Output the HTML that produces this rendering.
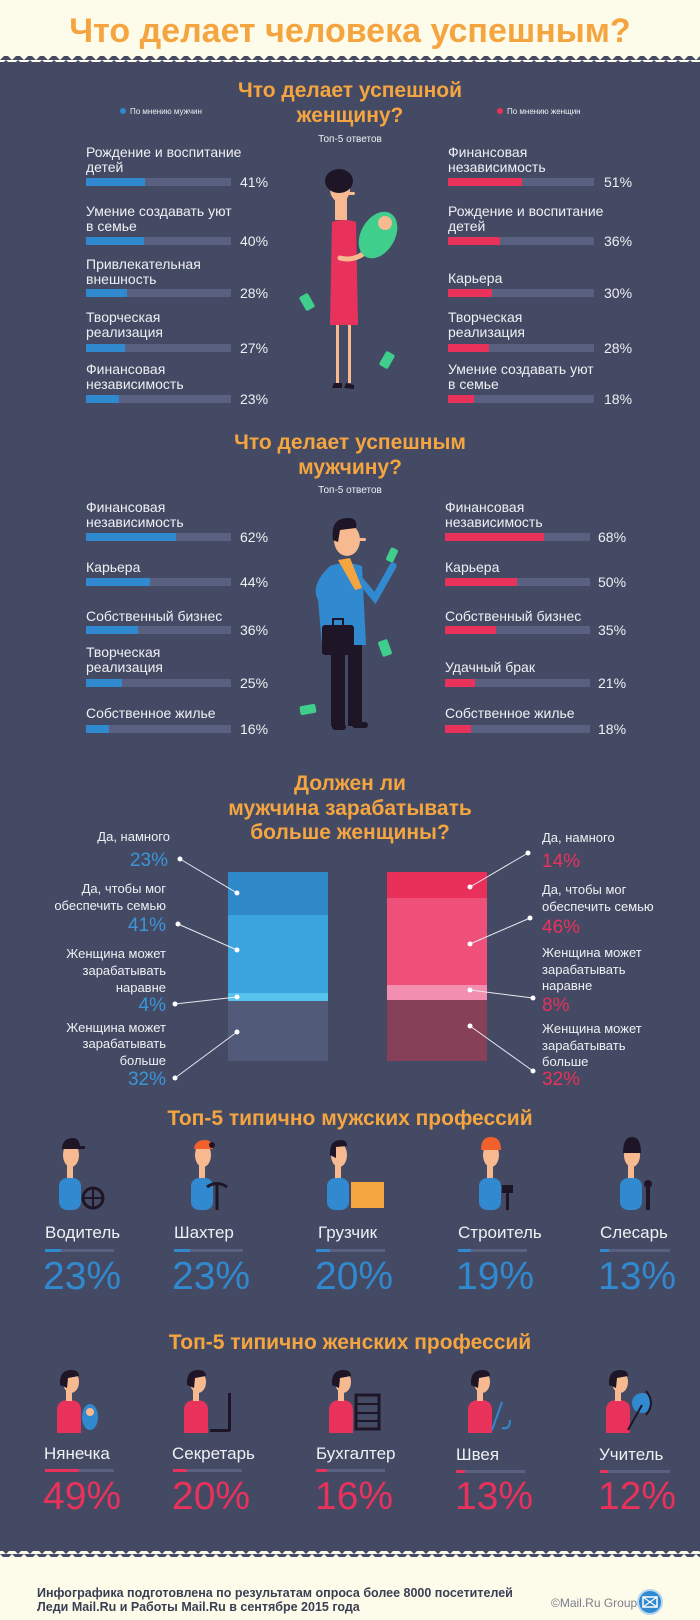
<!DOCTYPE html>
<html><head><meta charset="utf-8"><style>
html,body{margin:0;padding:0;background:#fdfbea;}
svg{display:block}
text{font-family:"Liberation Sans","Noto Sans CJK SC",sans-serif;}
.t{fill:#eef0f4;font-size:14px}
.h{fill:#f5a540;font-weight:bold;font-size:21px;text-anchor:middle}
.p{fill:#eef0f4;font-size:14px}
</style></head><body>
<svg width="700" height="1620" viewBox="0 0 700 1620" xmlns="http://www.w3.org/2000/svg">
<defs>
<pattern id="zt" width="12" height="6" patternUnits="userSpaceOnUse"><polygon points="0,6 6,0 12,6" fill="#444a63"/></pattern>
<pattern id="zb" width="12" height="6" patternUnits="userSpaceOnUse"><polygon points="0,0 12,0 6,6" fill="#444a63"/></pattern>
</defs>
<rect width="700" height="1620" fill="#fdfbea"/>
<rect x="0" y="56" width="700" height="6" fill="url(#zt)"/>
<rect x="0" y="62" width="700" height="1489" fill="#444a63"/>
<rect x="0" y="1551" width="700" height="6" fill="url(#zb)"/>
<text x="350" y="42" text-anchor="middle" font-size="34" font-weight="bold" fill="#f5a540">Что делает человека успешным?</text>

<!-- Section 1 -->
<text class="h" x="350" y="97">Что делает успешной</text>
<text class="h" x="350" y="122">женщину?</text>
<text x="350" y="142" text-anchor="middle" font-size="10" fill="#eef0f4">Топ-5 ответов</text>
<circle cx="123" cy="111" r="3" fill="#3189cf"/><text x="130" y="114" font-size="8" fill="#eef0f4">По мнению мужчин</text>
<circle cx="500" cy="111" r="3" fill="#e8325c"/><text x="507" y="114" font-size="8" fill="#eef0f4">По мнению женщин</text>

<g class="t">
<text x="86" y="157">Рождение и воспитание</text><text x="86" y="172">детей</text>
<text x="86" y="216">Умение создавать уют</text><text x="86" y="231">в семье</text>
<text x="86" y="269">Привлекательная</text><text x="86" y="284">внешность</text>
<text x="86" y="322">Творческая</text><text x="86" y="337">реализация</text>
<text x="86" y="374">Финансовая</text><text x="86" y="389">независимость</text>
<text x="448" y="157">Финансовая</text><text x="448" y="172">независимость</text>
<text x="448" y="216">Рождение и воспитание</text><text x="448" y="231">детей</text>
<text x="448" y="283">Карьера</text>
<text x="448" y="322">Творческая</text><text x="448" y="337">реализация</text>
<text x="448" y="374">Умение создавать уют</text><text x="448" y="389">в семье</text>
</g>
<g fill="#5a6180">
<rect x="86" y="178" width="145" height="8"/><rect x="86" y="237" width="145" height="8"/><rect x="86" y="289" width="145" height="8"/><rect x="86" y="344" width="145" height="8"/><rect x="86" y="395" width="145" height="8"/>
<rect x="448" y="178" width="146" height="8"/><rect x="448" y="237" width="146" height="8"/><rect x="448" y="289" width="146" height="8"/><rect x="448" y="344" width="146" height="8"/><rect x="448" y="395" width="146" height="8"/>
</g>
<g fill="#3189cf">
<rect x="86" y="178" width="59" height="8"/><rect x="86" y="237" width="58" height="8"/><rect x="86" y="289" width="41" height="8"/><rect x="86" y="344" width="39" height="8"/><rect x="86" y="395" width="33" height="8"/>
</g>
<g fill="#e8325c">
<rect x="448" y="178" width="74" height="8"/><rect x="448" y="237" width="52" height="8"/><rect x="448" y="289" width="44" height="8"/><rect x="448" y="344" width="41" height="8"/><rect x="448" y="395" width="26" height="8"/>
</g>
<g class="p">
<text x="240" y="187">41%</text><text x="240" y="246">40%</text><text x="240" y="298">28%</text><text x="240" y="353">27%</text><text x="240" y="404">23%</text>
<text x="604" y="187">51%</text><text x="604" y="246">36%</text><text x="604" y="298">30%</text><text x="604" y="353">28%</text><text x="604" y="404">18%</text>
</g>
<!-- woman -->
<g>
<rect x="302" y="294" width="10" height="16" rx="2" fill="#3fce8c" transform="rotate(-30 307 302)"/>
<rect x="382" y="352" width="10" height="16" rx="2" fill="#3fce8c" transform="rotate(30 387 360)"/>
<rect x="336" y="320" width="3" height="63" fill="#f7b98f"/><rect x="348" y="320" width="3" height="63" fill="#f7b98f"/>
<path d="M334 383 l8 0 l0 5 l-10 0z M346 383 l8 2 l0 4 l-10 -1z" fill="#1e1626"/>
<rect x="335" y="196" width="12" height="24" fill="#f7b98f"/>
<ellipse cx="340" cy="189" rx="10" ry="13" fill="#f7b98f"/>
<rect x="346" y="192" width="9" height="3" rx="1.5" fill="#f7b98f"/>
<ellipse cx="339" cy="181" rx="14" ry="12" fill="#1e1626"/>
<path d="M332 222 Q344 218 356 222 L358 325 L330 325 Z" fill="#e8325c"/>
<path d="M340 258 Q355 262 368 250" stroke="#f7b98f" stroke-width="5" fill="none" stroke-linecap="round"/>
<ellipse cx="378" cy="235" rx="17" ry="25" transform="rotate(30 378 235)" fill="#3fce8c"/>
<circle cx="385" cy="223" r="7" fill="#f7b98f"/>
</g>

<!-- Section 2 -->
<text class="h" x="350" y="449">Что делает успешным</text>
<text class="h" x="350" y="474">мужчину?</text>
<text x="350" y="493" text-anchor="middle" font-size="10" fill="#eef0f4">Топ-5 ответов</text>
<g class="t">
<text x="86" y="512">Финансовая</text><text x="86" y="527">независимость</text>
<text x="86" y="572">Карьера</text>
<text x="86" y="621">Собственный бизнес</text>
<text x="86" y="657">Творческая</text><text x="86" y="672">реализация</text>
<text x="86" y="718">Собственное жилье</text>
<text x="445" y="512">Финансовая</text><text x="445" y="527">независимость</text>
<text x="445" y="572">Карьера</text>
<text x="445" y="621">Собственный бизнес</text>
<text x="445" y="672">Удачный брак</text>
<text x="445" y="718">Собственное жилье</text>
</g>
<g fill="#5a6180">
<rect x="86" y="533" width="145" height="8"/><rect x="86" y="578" width="145" height="8"/><rect x="86" y="626" width="145" height="8"/><rect x="86" y="679" width="145" height="8"/><rect x="86" y="725" width="145" height="8"/>
<rect x="445" y="533" width="145" height="8"/><rect x="445" y="578" width="145" height="8"/><rect x="445" y="626" width="145" height="8"/><rect x="445" y="679" width="145" height="8"/><rect x="445" y="725" width="145" height="8"/>
</g>
<g fill="#3189cf">
<rect x="86" y="533" width="90" height="8"/><rect x="86" y="578" width="64" height="8"/><rect x="86" y="626" width="52" height="8"/><rect x="86" y="679" width="36" height="8"/><rect x="86" y="725" width="23" height="8"/>
</g>
<g fill="#e8325c">
<rect x="445" y="533" width="99" height="8"/><rect x="445" y="578" width="72" height="8"/><rect x="445" y="626" width="51" height="8"/><rect x="445" y="679" width="30" height="8"/><rect x="445" y="725" width="26" height="8"/>
</g>
<g class="p">
<text x="240" y="542">62%</text><text x="240" y="587">44%</text><text x="240" y="635">36%</text><text x="240" y="688">25%</text><text x="240" y="734">16%</text>
<text x="598" y="542">68%</text><text x="598" y="587">50%</text><text x="598" y="635">35%</text><text x="598" y="688">21%</text><text x="598" y="734">18%</text>
</g>
<!-- man -->
<g>
<rect x="380" y="640" width="10" height="16" rx="2" fill="#3fce8c" transform="rotate(-20 385 648)"/>
<rect x="300" y="705" width="16" height="9" rx="2" fill="#3fce8c" transform="rotate(-10 308 710)"/>
<rect x="331" y="640" width="14" height="86" fill="#1e1626"/><rect x="348" y="640" width="14" height="86" fill="#1e1626"/>
<rect x="332" y="724" width="14" height="6" rx="3" fill="#1e1626"/><rect x="352" y="722" width="16" height="6" rx="3" fill="#1e1626"/>
<path d="M330 566 Q345 560 362 566 L366 645 L322 645 L318 600 Q310 585 330 566Z" fill="#3189cf"/>
<path d="M360 580 L375 598 L393 566" stroke="#3189cf" stroke-width="7" fill="none" stroke-linecap="round"/>
<rect x="388" y="548" width="8" height="14" rx="2" fill="#3fce8c" transform="rotate(25 392 555)"/>
<ellipse cx="347" cy="540" rx="13" ry="16" fill="#f7b98f"/>
<rect x="356" y="538" width="10" height="3" rx="1.5" fill="#f7b98f"/>
<path d="M333 540 Q330 518 348 518 Q358 518 356 528 L340 530 L338 542Z" fill="#1e1626"/>
<path d="M338 560 L350 558 L362 588 L355 590Z" fill="#f5a540"/>
<rect x="322" y="625" width="32" height="30" rx="3" fill="#1e1626"/>
<path d="M333 625 L333 619 L343 619 L343 625" stroke="#1e1626" stroke-width="2" fill="none"/>
</g>

<!-- Section 3 -->
<text class="h" x="350" y="790">Должен ли</text>
<text class="h" x="350" y="815">мужчина зарабатывать</text>
<text class="h" x="350" y="839">больше женщины?</text>
<rect x="228" y="872" width="100" height="43" fill="#2f88c8"/>
<rect x="228" y="915" width="100" height="78" fill="#3ba4de"/>
<rect x="228" y="993" width="100" height="8" fill="#58c3ef"/>
<rect x="228" y="1001" width="100" height="60" fill="#525a7a"/>
<rect x="387" y="872" width="100" height="26" fill="#e8305a"/>
<rect x="387" y="898" width="100" height="87" fill="#ef507a"/>
<rect x="387" y="985" width="100" height="15" fill="#f28fb0"/>
<rect x="387" y="1000" width="100" height="61" fill="#864057"/>
<g stroke="#e6e8ee" stroke-width="1" fill="#fff">
<line x1="180" y1="859" x2="237" y2="893"/><line x1="178" y1="924" x2="237" y2="950"/><line x1="175" y1="1004" x2="237" y2="997"/><line x1="175" y1="1078" x2="237" y2="1032"/>
<line x1="528" y1="853" x2="470" y2="887"/><line x1="530" y1="918" x2="470" y2="944"/><line x1="533" y1="998" x2="470" y2="990"/><line x1="533" y1="1071" x2="470" y2="1026"/>
</g>
<g fill="#fff">
<circle cx="180" cy="859" r="2.5"/><circle cx="237" cy="893" r="2.5"/><circle cx="178" cy="924" r="2.5"/><circle cx="237" cy="950" r="2.5"/><circle cx="175" cy="1004" r="2.5"/><circle cx="237" cy="997" r="2.5"/><circle cx="175" cy="1078" r="2.5"/><circle cx="237" cy="1032" r="2.5"/>
<circle cx="528" cy="853" r="2.5"/><circle cx="470" cy="887" r="2.5"/><circle cx="530" cy="918" r="2.5"/><circle cx="470" cy="944" r="2.5"/><circle cx="533" cy="998" r="2.5"/><circle cx="470" cy="990" r="2.5"/><circle cx="533" cy="1071" r="2.5"/><circle cx="470" cy="1026" r="2.5"/>
</g>
<g class="t" text-anchor="end" style="font-size:13px">
<text x="170" y="841">Да, намного</text>
<text x="166" y="893">Да, чтобы мог</text><text x="166" y="910">обеспечить семью</text>
<text x="166" y="958">Женщина может</text><text x="166" y="975">зарабатывать</text><text x="166" y="992">наравне</text>
<text x="166" y="1032">Женщина может</text><text x="166" y="1048">зарабатывать</text><text x="166" y="1065">больше</text>
</g>
<g font-size="19" fill="#3a96d8" text-anchor="end">
<text x="168" y="866">23%</text><text x="166" y="931">41%</text><text x="166" y="1011">4%</text><text x="166" y="1085">32%</text>
</g>
<g class="t" style="font-size:13px">
<text x="542" y="842">Да, намного</text>
<text x="542" y="894">Да, чтобы мог</text><text x="542" y="911">обеспечить семью</text>
<text x="542" y="957">Женщина может</text><text x="542" y="974">зарабатывать</text><text x="542" y="990">наравне</text>
<text x="542" y="1033">Женщина может</text><text x="542" y="1050">зарабатывать</text><text x="542" y="1066">больше</text>
</g>
<g font-size="19" fill="#e8325c">
<text x="542" y="867">14%</text><text x="542" y="933">46%</text><text x="542" y="1011">8%</text><text x="542" y="1085">32%</text>
</g>

<!-- Section 4 men professions -->
<text class="h" x="350" y="1125">Топ-5 типично мужских профессий</text>
<g>
<g transform="translate(71,0)">
<rect x="-12" y="1178" width="22" height="32" rx="8" fill="#3189cf"/><rect x="-4" y="1162" width="6" height="16" fill="#f7b98f"/><ellipse cx="0" cy="1155" rx="8" ry="12" fill="#f7b98f"/>
<path d="M-9 1148 Q-8 1138 2 1138 Q8 1138 9 1146 L14 1146 L14 1149 L-9 1149Z" fill="#1e1626"/>
<circle cx="22" cy="1198" r="10" fill="none" stroke="#1e1626" stroke-width="3"/><line x1="12" y1="1198" x2="32" y2="1198" stroke="#1e1626" stroke-width="2"/><line x1="22" y1="1188" x2="22" y2="1208" stroke="#1e1626" stroke-width="2"/>
</g>
<g transform="translate(203,0)">
<rect x="-12" y="1178" width="22" height="32" rx="8" fill="#3189cf"/><rect x="-4" y="1162" width="6" height="16" fill="#f7b98f"/><ellipse cx="0" cy="1155" rx="8" ry="12" fill="#f7b98f"/>
<path d="M-9 1149 Q-8 1140 2 1140 Q10 1140 10 1149Z" fill="#f2602b"/><circle cx="9" cy="1145" r="3" fill="#1e1626"/>
<line x1="14" y1="1185" x2="14" y2="1210" stroke="#1e1626" stroke-width="3"/><path d="M4 1187 Q14 1180 24 1187" stroke="#1e1626" stroke-width="3" fill="none"/>
</g>
<g transform="translate(339,0)">
<rect x="-12" y="1178" width="22" height="32" rx="8" fill="#3189cf"/><rect x="-4" y="1162" width="6" height="16" fill="#f7b98f"/><ellipse cx="0" cy="1155" rx="8" ry="12" fill="#f7b98f"/>
<path d="M-9 1155 Q-10 1140 2 1140 Q8 1140 8 1146 L-3 1147 L-3 1158Z" fill="#1e1626"/>
<rect x="12" y="1182" width="33" height="26" fill="#f5a540"/>
</g>
<g transform="translate(491,0)">
<rect x="-12" y="1178" width="22" height="32" rx="8" fill="#3189cf"/><rect x="-4" y="1162" width="6" height="16" fill="#f7b98f"/><ellipse cx="0" cy="1155" rx="8" ry="12" fill="#f7b98f"/>
<path d="M-10 1150 Q-10 1137 0 1137 Q10 1137 10 1150Z" fill="#f2602b"/>
<rect x="11" y="1185" width="11" height="8" fill="#1e1626"/><rect x="15" y="1193" width="3" height="17" fill="#1e1626"/>
</g>
<g transform="translate(632,0)">
<rect x="-12" y="1178" width="22" height="32" rx="8" fill="#3189cf"/><rect x="-4" y="1162" width="6" height="16" fill="#f7b98f"/><ellipse cx="0" cy="1155" rx="8" ry="12" fill="#f7b98f"/>
<path d="M-9 1153 Q-9 1137 0 1137 Q9 1137 9 1153Z" fill="#1e1626"/>
<rect x="14" y="1184" width="4" height="26" fill="#1e1626"/><circle cx="16" cy="1184" r="4" fill="#1e1626"/>
</g>
</g>
<g fill="#eef0f4" font-size="17">
<text x="45" y="1238">Водитель</text><text x="174" y="1238">Шахтер</text><text x="318" y="1238">Грузчик</text><text x="458" y="1238">Строитель</text><text x="600" y="1238">Слесарь</text>
</g>
<g fill="#5a6180">
<rect x="45" y="1249" width="69" height="3"/><rect x="174" y="1249" width="69" height="3"/><rect x="316" y="1249" width="69" height="3"/><rect x="458" y="1249" width="69" height="3"/><rect x="600" y="1249" width="70" height="3"/>
</g>
<g fill="#3189cf">
<rect x="45" y="1249" width="16" height="3"/><rect x="174" y="1249" width="16" height="3"/><rect x="316" y="1249" width="14" height="3"/><rect x="458" y="1249" width="13" height="3"/><rect x="600" y="1249" width="9" height="3"/>
</g>
<g fill="#3189cf" font-size="39">
<text x="43" y="1289">23%</text><text x="172" y="1289">23%</text><text x="315" y="1289">20%</text><text x="456" y="1289">19%</text><text x="598" y="1289">13%</text>
</g>

<!-- Section 5 women professions -->
<text class="h" x="350" y="1349">Топ-5 типично женских профессий</text>
<g>
<g transform="translate(69,0)"><path d="M-12 1433 L-12 1410 Q-12 1400 0 1400 Q12 1400 12 1410 L12 1433Z" fill="#e8325c"/><rect x="-3" y="1388" width="6" height="13" fill="#f7b98f"/><ellipse cx="2" cy="1382" rx="8" ry="11" fill="#f7b98f"/><path d="M-9 1385 Q-10 1370 2 1370 Q10 1370 10 1376 L-1 1378 L-2 1388Z" fill="#1e1626"/><ellipse cx="21" cy="1417" rx="8" ry="13" fill="#3189cf"/><circle cx="21" cy="1412" r="4" fill="#f7b98f"/></g>
<g transform="translate(196,0)"><path d="M-12 1433 L-12 1410 Q-12 1400 0 1400 Q12 1400 12 1410 L12 1433Z" fill="#e8325c"/><rect x="-3" y="1388" width="6" height="13" fill="#f7b98f"/><ellipse cx="2" cy="1382" rx="8" ry="11" fill="#f7b98f"/><path d="M-9 1385 Q-10 1370 2 1370 Q10 1370 10 1376 L-1 1378 L-2 1388Z" fill="#1e1626"/><rect x="32" y="1393" width="3" height="38" fill="#1e1626"/><rect x="14" y="1429" width="20" height="3" fill="#1e1626"/></g>
<g transform="translate(341,0)"><path d="M-12 1433 L-12 1410 Q-12 1400 0 1400 Q12 1400 12 1410 L12 1433Z" fill="#e8325c"/><rect x="-3" y="1388" width="6" height="13" fill="#f7b98f"/><ellipse cx="2" cy="1382" rx="8" ry="11" fill="#f7b98f"/><path d="M-9 1385 Q-10 1370 2 1370 Q10 1370 10 1376 L-1 1378 L-2 1388Z" fill="#1e1626"/><rect x="15" y="1395" width="23" height="34" fill="none" stroke="#1e1626" stroke-width="3"/><line x1="15" y1="1404" x2="38" y2="1404" stroke="#1e1626" stroke-width="2"/><line x1="15" y1="1413" x2="38" y2="1413" stroke="#1e1626" stroke-width="2"/><line x1="15" y1="1421" x2="38" y2="1421" stroke="#1e1626" stroke-width="2"/></g>
<g transform="translate(480,0)"><path d="M-12 1433 L-12 1410 Q-12 1400 0 1400 Q12 1400 12 1410 L12 1433Z" fill="#e8325c"/><rect x="-3" y="1388" width="6" height="13" fill="#f7b98f"/><ellipse cx="2" cy="1382" rx="8" ry="11" fill="#f7b98f"/><path d="M-9 1385 Q-10 1370 2 1370 Q10 1370 10 1376 L-1 1378 L-2 1388Z" fill="#1e1626"/><path d="M12 1430 L22 1402 M22 1428 Q30 1430 30 1420" stroke="#3189cf" stroke-width="2" fill="none"/></g>
<g transform="translate(618,0)"><path d="M-12 1433 L-12 1410 Q-12 1400 0 1400 Q12 1400 12 1410 L12 1433Z" fill="#e8325c"/><rect x="-3" y="1388" width="6" height="13" fill="#f7b98f"/><ellipse cx="2" cy="1382" rx="8" ry="11" fill="#f7b98f"/><path d="M-9 1385 Q-10 1370 2 1370 Q10 1370 10 1376 L-1 1378 L-2 1388Z" fill="#1e1626"/><circle cx="24" cy="1403" r="10" fill="#3189cf"/><path d="M28 1391 Q38 1403 28 1415" stroke="#1e1626" stroke-width="2" fill="none"/><line x1="10" y1="1430" x2="24" y2="1405" stroke="#1e1626" stroke-width="2"/></g>
</g>
<g fill="#eef0f4" font-size="17">
<text x="44" y="1459">Нянечка</text><text x="172" y="1459">Секретарь</text><text x="316" y="1459">Бухгалтер</text><text x="456" y="1460">Швея</text><text x="599" y="1460">Учитель</text>
</g>
<g fill="#5a6180">
<rect x="45" y="1469" width="69" height="3"/><rect x="173" y="1469" width="69" height="3"/><rect x="316" y="1469" width="69" height="3"/><rect x="456" y="1470" width="69" height="3"/><rect x="600" y="1470" width="70" height="3"/>
</g>
<g fill="#e8325c">
<rect x="45" y="1469" width="34" height="3"/><rect x="173" y="1469" width="14" height="3"/><rect x="316" y="1469" width="11" height="3"/><rect x="456" y="1470" width="9" height="3"/><rect x="600" y="1470" width="8" height="3"/>
</g>
<g fill="#e8325c" font-size="39">
<text x="43" y="1509">49%</text><text x="172" y="1509">20%</text><text x="315" y="1509">16%</text><text x="455" y="1509">13%</text><text x="598" y="1509">12%</text>
</g>

<!-- footer -->
<text x="37" y="1597" font-size="12.5" font-weight="bold" fill="#3a3e52">Инфографика подготовлена по результатам опроса более 8000 посетителей</text>
<text x="37" y="1611" font-size="12.5" font-weight="bold" fill="#3a3e52">Леди Mail.Ru и Работы Mail.Ru в сентябре 2015 года</text>
<text x="551" y="1607" font-size="12" fill="#7a7e8c">©Mail.Ru Group</text>
<circle cx="650" cy="1602" r="12" fill="#3189cf" stroke="#b8d6f0" stroke-width="2"/>
<rect x="643" y="1597" width="14" height="10" fill="none" stroke="#fff" stroke-width="1.5"/>
<path d="M643 1597 L657 1607 M657 1597 L643 1607" stroke="#fff" stroke-width="1.2"/>
</svg>
</body></html>
